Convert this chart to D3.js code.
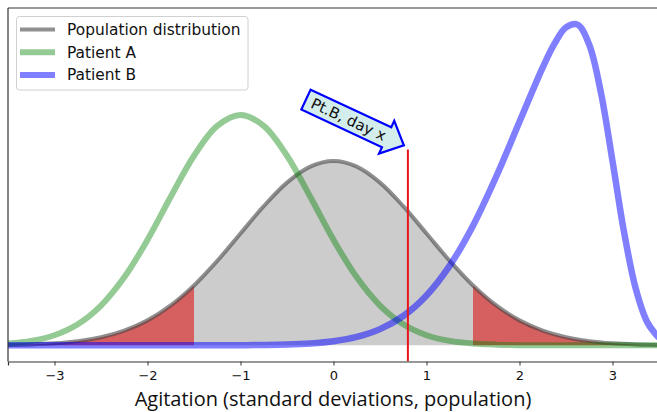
<!DOCTYPE html>
<html>
<head>
<meta charset="utf-8">
<script src="https://cdn.jsdelivr.net/npm/d3@7"></script>
<style>
  html, body { margin: 0; padding: 0; background: #fff; }
  svg { display: block; }
</style>
</head>
<body>
<svg id="chart" width="657" height="412"></svg>
<script>
// Agitation grid (population standard deviations)
const xs = [-3.5, -3.25, -3, -2.75, -2.5, -2.25, -2, -1.75, -1.5, -1.25, -1, -0.75, -0.5, -0.25,
            0, 0.25, 0.5, 0.75, 1, 1.25, 1.5, 1.75, 2, 2.25, 2.5, 2.75, 3, 3.25, 3.5];

// Density of the population distribution
const population = [0.0009, 0.0020, 0.0044, 0.0091, 0.0175, 0.0317, 0.0540, 0.0863, 0.1295, 0.1826,
                    0.2420, 0.3011, 0.3521, 0.3867, 0.3989, 0.3867, 0.3521, 0.3011, 0.2420, 0.1826,
                    0.1295, 0.0863, 0.0540, 0.0317, 0.0175, 0.0091, 0.0044, 0.0020, 0.0009];

// Density for Patient A
const patientA = [0.0038, 0.0096, 0.0219, 0.0456, 0.0861, 0.1471, 0.2283, 0.3214, 0.4102, 0.4749,
                  0.4987, 0.4749, 0.4102, 0.3214, 0.2283, 0.1471, 0.0861, 0.0456, 0.0219, 0.0096,
                  0.0038, 0.0014, 0.0004, 0.0001, 0.0000, 0.0000, 0.0000, 0.0000, 0.0000];

// Patient B is sampled more finely around its sharp peak
const xsB = [-3.5, -3.25, -3, -2.75, -2.5, -2.25, -2, -1.75, -1.5, -1.25, -1, -0.75, -0.5, -0.25,
             0, 0.25, 0.5, 0.75, 1, 1.25, 1.5, 1.75, 2, 2.25, 2.375, 2.5, 2.625, 2.75, 2.875,
             3, 3.125, 3.25, 3.375, 3.5];
const patientB = [0.0000, 0.0000, 0.0000, 0.0000, 0.0000, 0.0000, 0.0000, 0.0000, 0.0000, 0.0001,
                  0.0003, 0.0007, 0.0017, 0.0041, 0.0089, 0.0182, 0.0351, 0.0635, 0.1080, 0.1726,
                  0.2590, 0.3653, 0.4839, 0.6015, 0.6522, 0.6881, 0.6940, 0.6506, 0.5474,
                  0.3989, 0.2443, 0.1227, 0.0497, 0.0160];

const xTicks = [-3, -2, -1, 0, 1, 2, 3];
const tailCut = 1.5;      // population tails beyond ±1.5 SD
const dayX = 0.8;         // Patient B on day x
const legendLabels = ["Population distribution", "Patient A", "Patient B"];
const calloutText = "Pt.B, day x";
const axisTitle = "Agitation (standard deviations, population)";

const svg = d3.select("#chart");
const plotLeft = 8, plotTop = 8, plotBottom = 361.5;

const x = d3.scaleLinear().domain([-3.5, 3.5]).range([plotLeft, plotLeft + 7 * 93]);
const y = d3.scaleLinear().domain([-0.035, 0.73]).range([plotBottom, plotTop]);

const rows = (grid, vals) => grid.map((v, i) => ({ x: v, y: vals[i] }));
const pop = rows(xs, population), ptA = rows(xs, patientA), ptB = rows(xsB, patientB);

const curve = d3.curveCatmullRom.alpha(0.5);
const line = d3.line().x(d => x(d.x)).y(d => y(d.y)).curve(curve);
const area = d3.area().x(d => x(d.x)).y0(y(0)).y1(d => y(d.y)).curve(curve);

svg.append("defs").append("clipPath").attr("id", "plot")
  .append("rect").attr("x", plotLeft).attr("y", plotTop).attr("width", 700).attr("height", plotBottom - plotTop);

const plot = svg.append("g").attr("clip-path", "url(#plot)");

// Central mass and tails of the population distribution
plot.append("path").datum(pop.filter(d => d.x >= -tailCut && d.x <= tailCut))
  .attr("d", area).attr("fill", "#cccccc");
plot.append("path").datum(pop.filter(d => d.x <= -tailCut))
  .attr("d", area).attr("fill", "#d65f5f");
plot.append("path").datum(pop.filter(d => d.x >= tailCut))
  .attr("d", area).attr("fill", "#d65f5f");

// Density curves
const series = [
  { data: pop, color: "rgba(70,70,70,0.6)", width: 4 },
  { data: ptA, color: "rgba(0,128,0,0.42)", width: 6 },
  { data: ptB, color: "rgba(0,0,255,0.5)", width: 6.5 }
];
series.forEach(s => {
  plot.append("path").datum(s.data).attr("d", line)
    .attr("fill", "none").attr("stroke", s.color).attr("stroke-width", s.width)
    .attr("stroke-linejoin", "round");
});

// Day-x marker
plot.append("line")
  .attr("x1", x(dayX)).attr("x2", x(dayX))
  .attr("y1", plotBottom).attr("y2", plotBottom - 0.6 * (plotBottom - plotTop))
  .attr("stroke", "#e8161b").attr("stroke-width", 2);

// Axes frame
svg.append("line").attr("x1", plotLeft).attr("x2", plotLeft).attr("y1", plotTop).attr("y2", plotBottom)
  .attr("stroke", "#333").attr("stroke-width", 1.2);
svg.append("line").attr("x1", plotLeft).attr("x2", 657).attr("y1", plotTop).attr("y2", plotTop)
  .attr("stroke", "#333").attr("stroke-width", 1.2);

const xAxis = d3.axisBottom(x).tickValues(xTicks).tickSize(4).tickPadding(5)
  .tickFormat(d => d3.format("d")(d).replace("-", "\u2212"));
const gx = svg.append("g").attr("transform", `translate(0,${plotBottom})`).call(xAxis);
gx.attr("font-size", 13).attr("font-family", "DejaVu Sans");
gx.select(".domain").attr("stroke", "#333").attr("stroke-width", 1.2);
gx.selectAll(".tick line").attr("stroke", "#333").attr("stroke-width", 1);
gx.selectAll(".tick text").attr("fill", "#111");

svg.append("text").attr("x", 333).attr("y", 406).attr("text-anchor", "middle")
  .attr("font-family", "Open Sans").attr("font-size", 20).attr("fill", "#111")
  .text(axisTitle);

// Callout arrow pointing at the day-x marker
const call = svg.append("g").attr("transform", "translate(354,122) rotate(25)");
call.append("path")
  .attr("d", "M-53,-11 L36,-11 L36,-18 L55,0 L36,18 L36,11 L-53,11 Z")
  .attr("fill", "#d3ecec").attr("stroke", "#0000ff").attr("stroke-width", 2.2)
  .attr("stroke-linejoin", "miter");
call.append("text").attr("x", -6).attr("y", 0).attr("dy", "0.35em")
  .attr("text-anchor", "middle").attr("font-family", "DejaVu Sans").attr("font-size", 15)
  .attr("fill", "#111").text(calloutText);

// Legend
const legend = svg.append("g");
legend.append("rect").attr("x", 16.5).attr("y", 16.5).attr("width", 231.5).attr("height", 73.5)
  .attr("rx", 3).attr("fill", "rgba(255,255,255,0.85)").attr("stroke", "#d0d0d0");
const legendColors = series.map(s => s.color);
const legendWidths = [4, 6, 6];
legendLabels.forEach((lab, i) => {
  const yy = 29.5 + i * 22.7;
  legend.append("line").attr("x1", 20).attr("x2", 55).attr("y1", yy).attr("y2", yy)
    .attr("stroke", legendColors[i]).attr("stroke-width", legendWidths[i]);
  legend.append("text").attr("x", 67).attr("y", yy).attr("dy", "0.36em")
    .attr("font-family", "DejaVu Sans").attr("font-size", 15.4).attr("fill", "#111").text(lab);
});
</script>
</body>
</html>
